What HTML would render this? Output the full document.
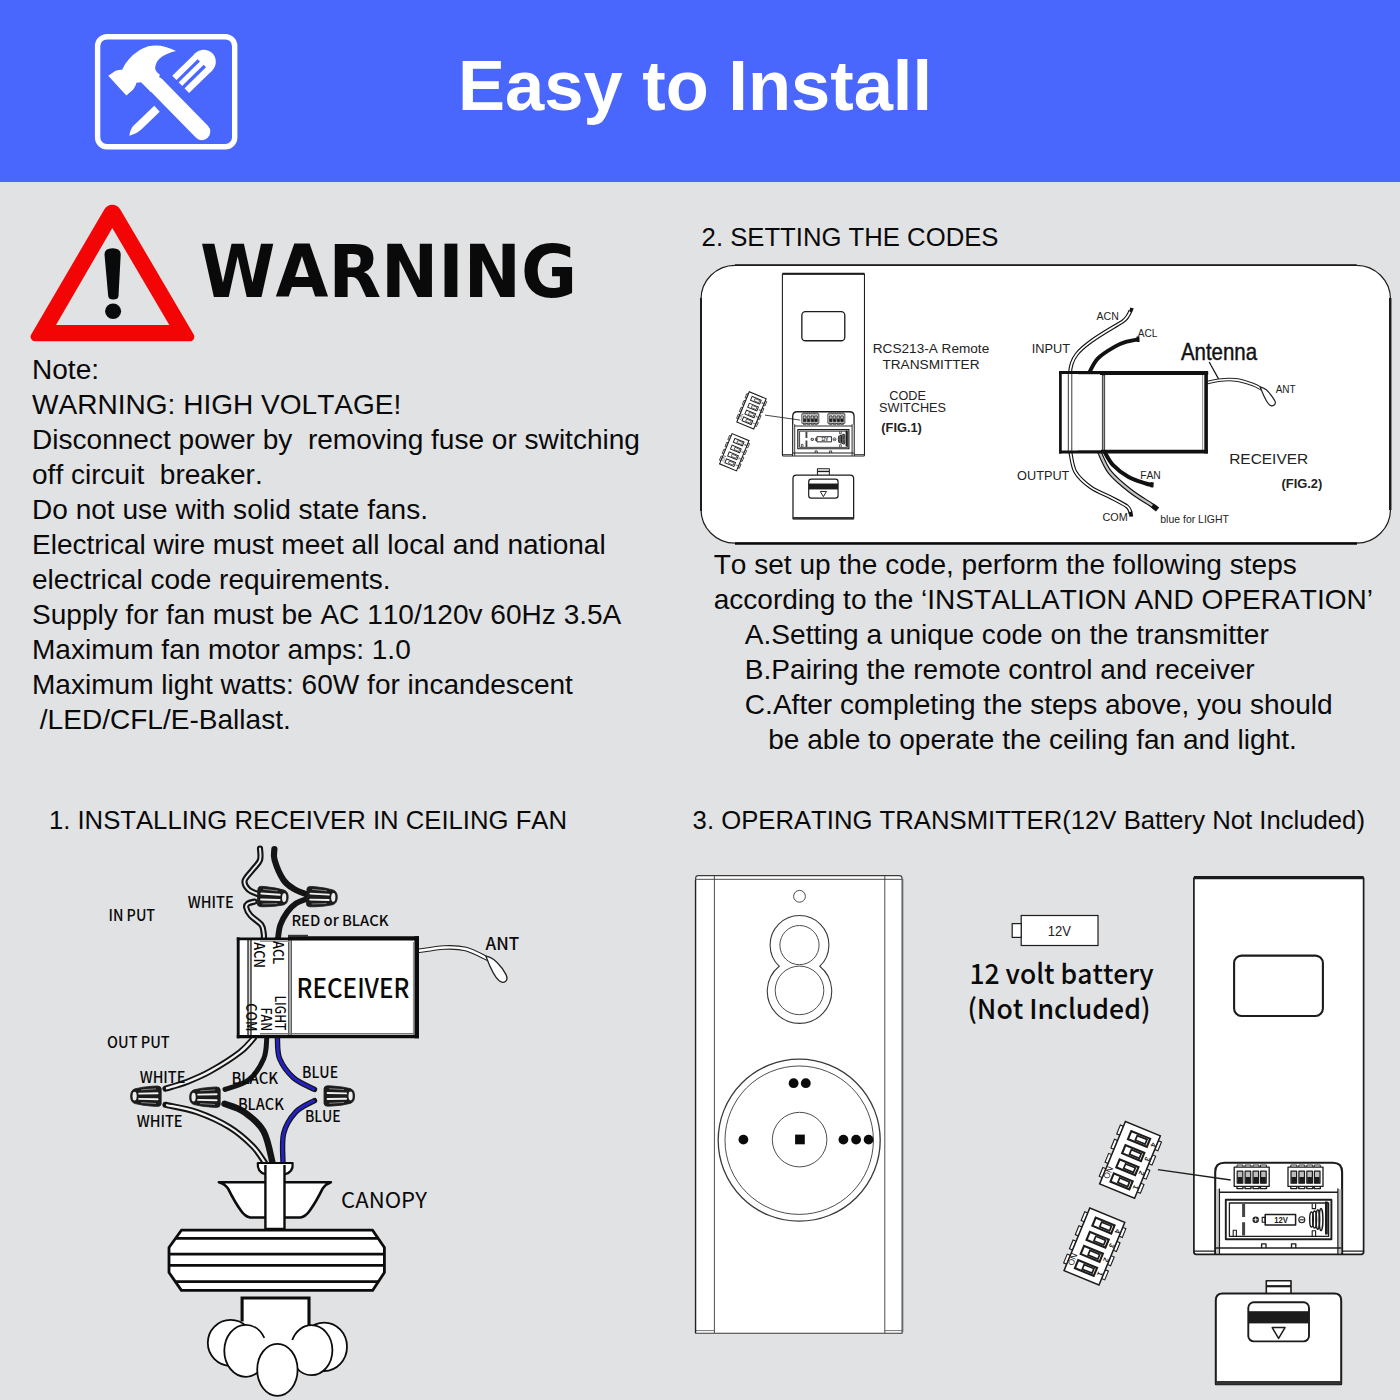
<!DOCTYPE html>
<html lang="en">
<head>
<meta charset="utf-8">
<title>Easy to Install</title>
<style>
html,body{margin:0;padding:0;}
body{font-kerning:none;width:1400px;height:1400px;position:relative;overflow:hidden;background:#e1e2e4;font-family:"Liberation Sans",sans-serif;color:#0a0a0a;}
.hdr{position:absolute;left:0;top:0;width:1400px;height:182px;background:#4966fd;}
.title{position:absolute;left:-5px;top:45.5px;width:1400px;text-align:center;font-weight:bold;font-size:70.5px;line-height:80px;color:#fff;white-space:pre;}
.warn{position:absolute;left:200.2px;top:217.7px;font-family:"DejaVu Sans","Liberation Sans",sans-serif;font-weight:bold;font-size:73px;line-height:108px;white-space:pre;transform:scaleX(0.937);transform-origin:0 0;}
.note{position:absolute;left:32px;top:351.7px;font-size:28.05px;line-height:35px;white-space:pre;}
.steps{position:absolute;left:713.7px;top:546.8px;font-size:28.05px;line-height:35px;white-space:pre;}
.h2{position:absolute;font-size:25.7px;line-height:30px;white-space:pre;}
svg{position:absolute;left:0;top:0;}
svg text{white-space:pre;}
.a{font-family:"Liberation Sans",sans-serif;fill:#222;}
.y{font-family:"Noto Sans CJK SC","DejaVu Sans","Liberation Sans",sans-serif;fill:#0a0a0a;font-weight:500;}
</style>
</head>
<body>
<div class="hdr"></div>
<div class="title" id="title">Easy to Install</div>
<div class="warn" id="warn">WARNING</div>
<div class="note" id="note">Note:
WARNING: HIGH VOLTAGE!
Disconnect power by  removing fuse or switching
off circuit  breaker.
Do not use with solid state fans.
Electrical wire must meet all local and national
electrical code requirements.
Supply for fan must be AC 110/120v 60Hz 3.5A
Maximum fan motor amps: 1.0
Maximum light watts: 60W for incandescent
 /LED/CFL/E-Ballast.</div>
<div class="h2" id="h2a" style="left:701.6px;top:222.3px">2. SETTING THE CODES</div>
<div class="steps" id="steps">To set up the code, perform the following steps
according to the ‘INSTALLATION AND OPERATION’
    A.Setting a unique code on the transmitter
    B.Pairing the remote control and receiver
    C.After completing the steps above, you should
       be able to operate the ceiling fan and light.</div>
<div class="h2" id="h2b" style="left:48.9px;top:805px">1. INSTALLING RECEIVER IN CEILING FAN</div>
<div class="h2" id="h2c" style="left:692.6px;top:805.2px">3. OPERATING TRANSMITTER(12V Battery Not Included)</div>
<svg id="art" width="1400" height="1400" viewBox="0 0 1400 1400">
<!-- ===== header icon: hammer + screwdriver ===== -->
<rect x="97.6" y="36.7" width="137.1" height="110" rx="9.3" ry="9.3" fill="none" stroke="#fff" stroke-width="5.4"/>
<g transform="translate(90,28) scale(0.10857)" fill="#fff" stroke="none">
  <!-- hammer handle -->
  <path d="M606 522 L1030 955" stroke="#fff" stroke-width="156" stroke-linecap="round" fill="none"/>
  <!-- hammer head -->
  <path d="M168 440 L232 396 Q262 382 296 384 Q318 330 360 285 Q430 205 535 168 Q660 140 792 212 Q700 232 642 280 Q598 322 600 378 Q610 410 645 432 L560 590 L470 500 L428 504 Q420 540 398 566 L335 622 Z"/>
  <!-- screwdriver handle -->
  <path d="M835 520 L1048 312" stroke="#fff" stroke-width="222" stroke-linecap="butt" fill="none"/>
  <circle cx="1048" cy="312" r="111"/>
  <!-- grooves -->
  <path d="M1002 298 L800 496" stroke="#4966fd" stroke-width="30" fill="none"/>
  <path d="M1058 350 L856 548" stroke="#4966fd" stroke-width="30" fill="none"/>
  <!-- screwdriver shaft + blade -->
  <path d="M592 716 L642 772 L470 938 Q430 975 362 992 Q372 930 400 900 Z"/>
</g>
<!-- ===== warning triangle ===== -->
<path d="M104.3 209.4 A9.3 9.3 0 0 1 120.3 209.4 L193.7 334.5 A4.5 4.5 0 0 1 189.9 341.3 L35.1 341.3 A4.5 4.5 0 0 1 31.2 334.5 Z" fill="#f30505"/>
<path d="M112.3 228 L169.3 325 L56 325 Z" fill="#e1e2e4"/>
<path d="M104.5 254.5 Q104.4 248.3 112.6 248.3 Q120.8 248.3 120.7 254.5 L118.5 296 Q118.2 299.6 113.3 299.6 Q108.5 299.6 108.2 296 Z" fill="#0a0a0a"/>
<ellipse cx="113.1" cy="311.2" rx="8" ry="7.7" fill="#0a0a0a"/>

<!-- ===== section 2: setting the codes ===== -->
<rect x="701" y="265.3" width="689.5" height="277.9" rx="34" ry="34" fill="#fff" stroke="#1c1c1c" stroke-width="1.2"/>
<path d="M701 298 V511" stroke="#1c1c1c" stroke-width="2" fill="none"/>
<path d="M735 265.1 H1356.5" stroke="#1c1c1c" stroke-width="1.8" fill="none"/>
<path d="M735 543.5 H1357" stroke="#0a0a0a" stroke-width="2.6" fill="none"/>
<path d="M1390.2 298 V510" stroke="#1c1c1c" stroke-width="2.4" fill="none"/>
<g transform="translate(205.03,-150.56) scale(0.4836)">
<g fill="none" stroke="#1c1c1c" stroke-width="2.21" stroke-linejoin="round">
  <!-- remote back body -->
  <path d="M1193.9 878 H1363.6 V1252 Q1363.6 1254.3 1361.3 1254.3 H1196.2 Q1193.9 1254.3 1193.9 1252 Z" fill="#fff"/>
  <path d="M1193.9 877.6 H1363.6" stroke-width="4.16"/>
  <path d="M1194 1251.2 H1215 M1342 1251.2 H1363.5" stroke-width="1.56"/>
  <!-- window -->
  <rect x="1234.1" y="955.6" width="88.8" height="60.4" rx="7.5" ry="7.5" stroke-width="2.73"/>
  <!-- battery compartment -->
  <path d="M1215.2 1254.3 V1172 Q1215.2 1162.7 1224.5 1162.7 H1332.8 Q1342.1 1162.7 1342.1 1172 V1254.3" stroke-width="2.73"/>
  <path d="M1217.3 1189 V1253 M1340 1189 V1253" stroke="#c6c6c6" stroke-width="3.38"/>
  <path d="M1219.4 1254 V1188.5 M1337.9 1254 V1188.5" stroke-width="1.69"/>
  <path d="M1219.4 1192.2 H1337.9" stroke-width="1.95"/>
  <path d="M1216 1248 H1341.5" stroke-width="2.08"/>
  <path d="M1261.6 1248 V1243.8 H1266 V1248 M1291.5 1248 V1243.8 H1295.8 V1248" stroke-width="1.69"/>
  <!-- dip blocks in compartment -->
  <g stroke-width="1.69">
    <rect x="1234.2" y="1167.2" width="35" height="19.2" fill="#fff"/>
    <rect x="1288" y="1167.2" width="35" height="19.2" fill="#fff"/>
    <path d="M1237 1167 V1165 H1243 V1167 M1245 1167 V1165 H1251 V1167 M1253 1167 V1165 H1259 V1167 M1260.5 1167 V1165 H1266.5 V1167" stroke-width="1.17"/>
    <path d="M1290.8 1167 V1165 H1296.8 V1167 M1298.8 1167 V1165 H1304.8 V1167 M1306.8 1167 V1165 H1312.8 V1167 M1314.3 1167 V1165 H1320.3 V1167" stroke-width="1.17"/>
    <path d="M1237 1186.6 V1188.6 H1243 V1186.6 M1245 1186.6 V1188.6 H1251 V1186.6 M1253 1186.6 V1188.6 H1259 V1186.6 M1260.5 1186.6 V1188.6 H1266.5 V1186.6" stroke-width="1.82"/>
    <path d="M1290.8 1186.6 V1188.6 H1296.8 V1186.6 M1298.8 1186.6 V1188.6 H1304.8 V1186.6 M1306.8 1186.6 V1188.6 H1312.8 V1186.6 M1314.3 1186.6 V1188.6 H1320.3 V1186.6" stroke-width="1.82"/>
    <g fill="#bdbdbd" stroke-width="1.56">
      <rect x="1237.2" y="1171.2" width="5.6" height="12"/><rect x="1245.1" y="1171.2" width="5.6" height="12"/><rect x="1253" y="1171.2" width="5.6" height="12"/><rect x="1260.6" y="1171.2" width="5.6" height="12"/>
      <rect x="1291" y="1171.2" width="5.6" height="12"/><rect x="1298.9" y="1171.2" width="5.6" height="12"/><rect x="1306.8" y="1171.2" width="5.6" height="12"/><rect x="1314.4" y="1171.2" width="5.6" height="12"/>
    </g>
    <g fill="#1c1c1c" stroke="none">
      <rect x="1237.6" y="1177" width="4.8" height="6.2"/><rect x="1245.5" y="1177" width="4.8" height="6.2"/><rect x="1253.4" y="1177" width="4.8" height="6.2"/><rect x="1261" y="1177" width="4.8" height="6.2"/>
      <rect x="1291.4" y="1177" width="4.8" height="6.2"/><rect x="1299.3" y="1177" width="4.8" height="6.2"/><rect x="1307.2" y="1177" width="4.8" height="6.2"/><rect x="1314.8" y="1177" width="4.8" height="6.2"/>
    </g>
  </g>
  <!-- battery holder -->
  <rect x="1225.8" y="1199.7" width="105.6" height="39.6" stroke-width="2.47" fill="#fff"/>
  <rect x="1229.4" y="1203" width="99.2" height="33.4" stroke-width="1.69"/>
  <path d="M1243.6 1204 V1217 M1243.6 1222.2 V1235.6" stroke-width="3.90" stroke="#444"/>
  <path d="M1233.2 1236 V1230.2 H1236.4 V1236" stroke-width="1.43"/>
  <path d="M1312.2 1203.4 V1208.6 H1315.6 V1203.4 M1312.2 1236 V1230.8 H1315.6 V1236" stroke-width="1.43"/>
  <circle cx="1255.7" cy="1219.8" r="3.2" fill="#1c1c1c" stroke="none"/>
  <path d="M1253.6 1219.8 H1257.8 M1255.7 1217.7 V1221.9" stroke="#fff" stroke-width="1.17"/>
  <circle cx="1301.8" cy="1219.8" r="3" stroke-width="1.43"/>
  <path d="M1299.8 1219.8 H1303.8" stroke-width="1.43"/>
  <rect x="1265.2" y="1214.4" width="30.4" height="10.6" stroke-width="1.95" fill="#fff"/>
  <rect x="1262.2" y="1217.4" width="3" height="4.8" stroke-width="1.43"/>
  <!-- spring -->
  <g stroke-width="1.95">
    <ellipse cx="1311.5" cy="1219.5" rx="1.8" ry="7.5"/>
    <ellipse cx="1314.6" cy="1219.5" rx="1.9" ry="8.6"/>
    <ellipse cx="1317.8" cy="1219.5" rx="1.9" ry="9.8"/>
    <ellipse cx="1321" cy="1219.5" rx="1.9" ry="11"/>
  </g>
  <path d="M1326.4 1201.5 V1234.5" stroke-width="3.64"/>
  <!-- leader line -->
  <path d="M1157.9 1169.7 L1230.7 1180" stroke-width="1.69"/>
  <!-- battery cover -->
  <path d="M1266.3 1293.5 V1280.8 H1291 V1293.5" fill="#fff" stroke-width="2.08"/>
  <path d="M1266.3 1286.2 H1291" stroke-width="2.86"/>
  <path d="M1215.8 1384.2 V1300.5 Q1215.8 1293.6 1222.7 1293.6 H1334.3 Q1341.2 1293.6 1341.2 1300.5 V1384.2 Z" fill="#fff" stroke-width="2.60"/>
  <path d="M1215.8 1382.7 H1341.2" stroke="#333" stroke-width="4.42"/>
  <rect x="1248.3" y="1302.2" width="60.7" height="39.2" rx="5.5" ry="5.5" stroke-width="2.47" fill="#fff"/>
  <rect x="1248.3" y="1311.2" width="60.7" height="12.2" fill="#1c1c1c" stroke="none"/>
  <path d="M1272.2 1327.6 H1285 L1278.6 1338.4 Z" stroke-width="1.95"/>
</g>
<text class="a" x="1274.2" y="1223" font-size="9.2" font-weight="bold" textLength="13.8" lengthAdjust="spacingAndGlyphs" style="fill:#1c1c1c">12V</text>
<g transform="translate(1130,1159.9) rotate(22.4)" fill="none" stroke="#1c1c1c" stroke-linejoin="miter">
  <g fill="#fff" stroke-width="1.5">
    <rect x="-22.2" y="-28.5" width="3.4" height="9.5"/><rect x="-22.2" y="-13.2" width="3.4" height="9.5"/><rect x="-22.2" y="2.1" width="3.4" height="9.5"/><rect x="-22.2" y="17.4" width="3.4" height="9.5"/>
    <rect x="18.9" y="-28.5" width="3.4" height="9.5"/><rect x="18.9" y="-13.2" width="3.4" height="9.5"/><rect x="18.9" y="2.1" width="3.4" height="9.5"/><rect x="18.9" y="17.4" width="3.4" height="9.5"/>
  </g>
  <rect x="-18.9" y="-33.8" width="37.8" height="67.6" fill="#fff" stroke-width="2.2"/>
  <g stroke-width="1.9">
    <rect x="-9.8" y="-27.2" width="20.4" height="8.8"/><rect x="-9.8" y="-11.9" width="20.4" height="8.8"/><rect x="-9.8" y="3.4" width="20.4" height="8.8"/><rect x="-9.8" y="18.7" width="20.4" height="8.8"/>
  </g>
  <g stroke-width="1.3" fill="#fff">
    <rect x="-2.6" y="-25.3" width="10.6" height="5"/><rect x="-2.6" y="-10" width="10.6" height="5"/><rect x="-2.6" y="5.3" width="10.6" height="5"/><rect x="-2.6" y="20.6" width="10.6" height="5"/>
  </g>
  <g class="a" font-size="7.4" font-weight="bold" stroke="none" style="fill:#1c1c1c">
    <text transform="translate(13.2,-24.8) rotate(90)">4</text>
    <text transform="translate(13.2,-9.5) rotate(90)">3</text>
    <text transform="translate(13.2,5.8) rotate(90)">2</text>
    <text transform="translate(13.2,21.1) rotate(90)">1</text>
    <text transform="translate(-12.4,26.4) rotate(-90)" font-size="8.4" font-weight="normal">ON</text>
  </g>
</g>

<g transform="translate(1094.4,1246.5) rotate(22.4)" fill="none" stroke="#1c1c1c" stroke-linejoin="miter">
  <g fill="#fff" stroke-width="1.5">
    <rect x="-22.2" y="-28.5" width="3.4" height="9.5"/><rect x="-22.2" y="-13.2" width="3.4" height="9.5"/><rect x="-22.2" y="2.1" width="3.4" height="9.5"/><rect x="-22.2" y="17.4" width="3.4" height="9.5"/>
    <rect x="18.9" y="-28.5" width="3.4" height="9.5"/><rect x="18.9" y="-13.2" width="3.4" height="9.5"/><rect x="18.9" y="2.1" width="3.4" height="9.5"/><rect x="18.9" y="17.4" width="3.4" height="9.5"/>
  </g>
  <rect x="-18.9" y="-33.8" width="37.8" height="67.6" fill="#fff" stroke-width="2.2"/>
  <g stroke-width="1.9">
    <rect x="-9.8" y="-27.2" width="20.4" height="8.8"/><rect x="-9.8" y="-11.9" width="20.4" height="8.8"/><rect x="-9.8" y="3.4" width="20.4" height="8.8"/><rect x="-9.8" y="18.7" width="20.4" height="8.8"/>
  </g>
  <g stroke-width="1.3" fill="#fff">
    <rect x="-2.6" y="-25.3" width="10.6" height="5"/><rect x="-2.6" y="-10" width="10.6" height="5"/><rect x="-2.6" y="5.3" width="10.6" height="5"/><rect x="-2.6" y="20.6" width="10.6" height="5"/>
  </g>
  <g class="a" font-size="7.4" font-weight="bold" stroke="none" style="fill:#1c1c1c">
    <text transform="translate(13.2,-24.8) rotate(90)">4</text>
    <text transform="translate(13.2,-9.5) rotate(90)">3</text>
    <text transform="translate(13.2,5.8) rotate(90)">2</text>
    <text transform="translate(13.2,21.1) rotate(90)">1</text>
    <text transform="translate(-12.4,26.4) rotate(-90)" font-size="8.4" font-weight="normal">ON</text>
  </g>
</g>


</g>
<g class="a" font-size="13.2">
  <text x="872.8" y="353.3" textLength="116.4" lengthAdjust="spacingAndGlyphs">RCS213-A Remote</text>
  <text x="882.4" y="368.8" textLength="97.2" lengthAdjust="spacingAndGlyphs">TRANSMITTER</text>
  <text x="889.3" y="400.1" textLength="36.6" lengthAdjust="spacingAndGlyphs">CODE</text>
  <text x="879" y="412" textLength="67" lengthAdjust="spacingAndGlyphs">SWITCHES</text>
  <text x="881.3" y="431.6" font-size="12.4" font-weight="bold" textLength="40.6" lengthAdjust="spacingAndGlyphs">(FIG.1)</text>
  <text x="1031.7" y="353.4" textLength="38.3" lengthAdjust="spacingAndGlyphs">INPUT</text>
  <text x="1017.1" y="480.1" textLength="52.3" lengthAdjust="spacingAndGlyphs">OUTPUT</text>
  <text x="1229.2" y="464" font-size="14.2" textLength="79" lengthAdjust="spacingAndGlyphs">RECEIVER</text>
  <text x="1281.5" y="487.8" font-size="12.4" font-weight="bold" textLength="40.8" lengthAdjust="spacingAndGlyphs">(FIG.2)</text>
  <text x="1096.5" y="320.3" font-size="10.6" textLength="22.3" lengthAdjust="spacingAndGlyphs">ACN</text>
  <text x="1137.7" y="337.1" font-size="10.6" textLength="19.7" lengthAdjust="spacingAndGlyphs">ACL</text>
  <text x="1275.7" y="393.4" font-size="10.6" textLength="20" lengthAdjust="spacingAndGlyphs">ANT</text>
  <text x="1140.2" y="478.5" font-size="10.6" textLength="20.6" lengthAdjust="spacingAndGlyphs">FAN</text>
  <text x="1102.5" y="520.9" font-size="10.6" textLength="25.2" lengthAdjust="spacingAndGlyphs">COM</text>
  <text x="1160.3" y="523.1" font-size="10.6" textLength="68.6" lengthAdjust="spacingAndGlyphs">blue for LIGHT</text>
  <text x="1180.9" y="360.3" font-size="24" textLength="76.2" lengthAdjust="spacingAndGlyphs" style="fill:#111;stroke:#111;stroke-width:0.45px">Antenna</text>
</g>
<g fill="none" stroke="#111" stroke-linecap="butt">
  <!-- antenna leader -->
  <path d="M1209.2 362 L1218.8 379.4" stroke-width="1.2"/>
  <!-- wires behind box -->
  <path d="M1070 374 C1070.5 357 1080 349.5 1091 341.4 C1102 333.4 1114 327 1122.5 321.6 C1127 318.6 1129 314.5 1130.6 310.4" stroke-width="4"/>
  <path d="M1070 374 C1070.5 357 1080 349.5 1091 341.4 C1102 333.4 1114 327 1122.5 321.6 C1127 318.6 1129 314.5 1130.6 310.4" stroke="#fff" stroke-width="1.7"/>
  <path d="M1129.3 311.5 L1130.2 307.6 L1133.8 308.6 L1131.8 312.4 Z" fill="#111" stroke="none"/>
  <path d="M1088.6 374.0 C1090.1 371.4 1093.3 363.2 1097.7 358.6 C1102.1 354.0 1110.0 349.4 1114.9 346.6 C1119.8 343.8 1123.1 342.8 1126.9 341.6 C1130.8 340.4 1136.2 339.8 1138.0 339.4" stroke-width="3.9"/>
  <path d="M1136.5 336.6 L1139.4 336.4 L1139.6 342 L1136.8 342 Z" fill="#111" stroke="none"/>
  <path d="M1070.3 452.0 C1071.2 455.3 1072.0 466.1 1075.4 472.0 C1078.8 477.9 1084.9 483.1 1090.9 487.4 C1096.9 491.7 1105.4 494.5 1111.4 497.7 C1117.4 500.9 1123.7 503.8 1126.9 506.3 C1130.1 508.9 1130.0 511.9 1130.6 513.0" stroke-width="4"/>
  <path d="M1070.3 452.0 C1071.2 455.3 1072.0 466.1 1075.4 472.0 C1078.8 477.9 1084.9 483.1 1090.9 487.4 C1096.9 491.7 1105.4 494.5 1111.4 497.7 C1117.4 500.9 1123.7 503.9 1126.9 506.3 C1130.1 508.7 1129.8 511.1 1130.4 512.0" stroke="#fff" stroke-width="1.7"/>
  <path d="M1128.4 512.6 L1132.4 511.6 L1133.2 516.6 L1129.6 516.8 Z" fill="#111" stroke="none"/>
  <path d="M1099.4 452.0 C1101.1 455.3 1104.6 465.5 1109.7 472.0 C1114.8 478.5 1123.4 485.5 1130.3 490.9 C1137.2 496.3 1146.7 501.8 1150.9 504.6 C1155.1 507.4 1154.8 507.3 1155.6 507.8" stroke-width="4.6"/>
  <path d="M1099.4 452.0 C1101.1 455.3 1104.6 465.5 1109.7 472.0 C1114.8 478.5 1123.4 485.5 1130.3 490.9 C1137.2 496.3 1147.1 502.1 1150.9 504.6 C1154.7 507.1 1152.7 505.8 1153.0 506.0" stroke="#c4c4c4" stroke-width="2.3"/>
  <path d="M1153.6 503.6 L1159.2 507.4 L1156 511.6 L1151 507.6 Z" fill="#111" stroke="none"/>
  <path d="M1104.6 452.0 C1106.0 454.2 1109.1 460.9 1113.1 465.1 C1117.1 469.3 1123.2 474.0 1128.6 477.1 C1134.0 480.2 1141.7 482.2 1145.7 483.5 C1149.7 484.8 1151.4 484.7 1152.6 484.9" stroke-width="4"/>
  <path d="M1150.6 482 L1153.8 482.4 L1153.4 487.6 L1150.2 487.2 Z" fill="#111" stroke="none"/>
  <!-- antenna wire -->
  <path d="M1206.0 382.8 C1208.1 382.4 1213.6 380.7 1218.6 380.2 C1223.5 379.7 1230.0 379.2 1235.7 379.9 C1241.4 380.6 1248.6 383.0 1252.9 384.5 C1257.2 386.0 1260.0 388.1 1261.4 388.8" stroke-width="3.6" stroke="#222"/>
  <path d="M1206.0 382.8 C1208.1 382.4 1213.6 380.7 1218.6 380.2 C1223.5 379.7 1230.0 379.2 1235.7 379.9 C1241.4 380.6 1248.6 383.0 1252.9 384.5 C1257.2 386.0 1260.0 388.1 1261.4 388.8" stroke="#fff" stroke-width="1.6"/>
  <path d="M1260.2 387.2 C1265 387.4 1270.5 393.5 1274.6 400.4 C1277 404.6 1272.6 407.2 1269.6 405 C1265.8 402 1263 394 1260.2 387.2 Z" fill="#fff" stroke="#222" stroke-width="1.2"/>
  <!-- receiver box -->
  <rect x="1060.3" y="372.6" width="146" height="79.2" fill="#fff" stroke="none"/>
  <path d="M1068.3 373 V452 M1071.8 373 V452" stroke="#222" stroke-width="0.9"/>
  <path d="M1103.5 374 V451" stroke="#333" stroke-width="3.2"/>
  <path d="M1103.5 375.5 V450" stroke="#a0a0a0" stroke-width="1.5"/>
  <path d="M1202.6 375 V450" stroke="#888" stroke-width="0.9"/>
  <path d="M1078 373.8 H1101 M1078 450.6 H1101" stroke="#999" stroke-width="1.2"/>
  <path d="M1060.4 371.1 V453.5" stroke-width="2.7"/>
  <path d="M1059.1 372.5 H1101" stroke-width="2.8"/>
  <path d="M1100 373 H1208.2" stroke-width="3.8"/>
  <path d="M1206.1 371.1 V453.5" stroke-width="3.6"/>
  <path d="M1059.1 452 H1102 " stroke-width="2.8"/>
  <path d="M1101 451.6 H1207.9" stroke-width="3.8"/>
</g>

<!-- ===== section 1: installing receiver ===== -->
<g fill="none" stroke="#141414" stroke-linecap="round" stroke-linejoin="round">
  <!-- input wires -->
  <path d="M260.0 848.5 C260.0 850.4 261.2 856.4 260.0 860.0 C258.8 863.6 255.1 866.5 252.5 870.0 C249.9 873.5 245.3 877.5 244.6 880.7 C243.9 884.0 246.2 887.2 248.5 889.5 C250.8 891.8 256.9 893.5 258.6 894.3" stroke-width="6.2"/>
  <path d="M260.0 848.5 C260.0 850.4 261.2 856.4 260.0 860.0 C258.8 863.6 255.1 866.5 252.5 870.0 C249.9 873.5 245.3 877.5 244.6 880.7 C243.9 884.0 246.2 887.2 248.5 889.5 C250.8 891.8 256.9 893.5 258.6 894.3" stroke="#e9e9e9" stroke-width="2"/>
  <path d="M254.5 901.6 C253.4 901.9 249.4 902.5 248.0 903.5 C246.6 904.5 245.8 905.5 246.2 907.5 C246.6 909.5 247.9 912.6 250.5 915.5 C253.1 918.4 259.3 921.9 261.5 925.0 C263.7 928.1 263.4 932.1 263.8 934.3 C264.2 936.5 263.8 937.4 263.8 938.0" stroke-width="6.2"/>
  <path d="M254.5 901.6 C253.4 901.9 249.4 902.5 248.0 903.5 C246.6 904.5 245.8 905.5 246.2 907.5 C246.6 909.5 247.9 912.6 250.5 915.5 C253.1 918.4 259.3 921.9 261.5 925.0 C263.7 928.1 263.4 932.1 263.8 934.3 C264.2 936.5 263.8 937.4 263.8 938.0" stroke="#e9e9e9" stroke-width="2"/>
  <path d="M274.4 849.0 C274.4 850.8 273.1 854.8 274.6 860.0 C276.1 865.2 280.3 875.2 283.5 880.0 C286.7 884.8 290.2 886.6 294.0 889.0 C297.8 891.4 304.0 893.3 306.0 894.2" stroke-width="6.2"/>
  <path d="M306.0 899.2 C304.3 899.9 299.1 901.3 296.0 903.4 C292.9 905.5 289.9 908.4 287.3 912.0 C284.7 915.6 281.9 920.7 280.3 925.0 C278.8 929.3 278.4 935.8 278.0 938.0" stroke-width="5.8"/>
  <!-- output wires -->
  <path d="M253.9 1038.0 C251.6 1040.3 247.3 1046.5 240.0 1052.1 C232.7 1057.7 218.9 1066.4 210.0 1071.4 C201.1 1076.4 193.8 1079.2 186.4 1082.1 C179.0 1085.0 169.0 1087.5 165.5 1088.6" stroke-width="6.2"/>
  <path d="M253.9 1038.0 C251.6 1040.3 247.3 1046.5 240.0 1052.1 C232.7 1057.7 218.9 1066.4 210.0 1071.4 C201.1 1076.4 193.6 1079.3 186.4 1082.1 C179.2 1084.9 170.2 1087.2 167.0 1088.2" stroke="#f2f2f2" stroke-width="2.4"/>
  <path d="M165.5 1104.8 C170.8 1106.0 186.5 1108.4 197.1 1112.1 C207.7 1115.8 220.0 1121.4 229.3 1127.1 C238.6 1132.8 246.8 1140.2 252.9 1146.4 C259.0 1152.6 263.6 1161.1 265.7 1164.0" stroke-width="6.2"/>
  <path d="M167.0 1105.2 C172.0 1106.3 186.7 1108.4 197.1 1112.1 C207.5 1115.8 220.0 1121.4 229.3 1127.1 C238.6 1132.8 246.8 1140.2 252.9 1146.4 C259.0 1152.6 263.6 1161.1 265.7 1164.0" stroke="#f2f2f2" stroke-width="2.2"/>
  <path d="M266.8 1038.0 C266.3 1041.4 266.8 1051.6 263.8 1058.6 C260.8 1065.6 255.1 1074.9 248.6 1080.0 C242.1 1085.1 228.9 1087.8 225.0 1089.4" stroke-width="5"/>
  <path d="M224.5 1103.8 C227.8 1105.2 237.8 1107.5 244.3 1112.1 C250.8 1116.7 258.9 1122.9 263.6 1131.4 C268.3 1139.9 271.1 1157.7 272.6 1163.0" stroke-width="6.4"/>
  <path d="M277.4 1038.0 C277.8 1041.4 276.9 1051.9 279.6 1058.6 C282.3 1065.2 287.8 1072.8 293.6 1077.9 C299.4 1083.0 311.0 1087.5 314.5 1089.4" stroke-width="5.4"/>
  <path d="M277.4 1038.0 C277.8 1041.4 276.9 1051.9 279.6 1058.6 C282.3 1065.2 288.0 1072.8 293.6 1077.9 C299.2 1083.0 310.2 1087.2 313.5 1089.0" stroke="#2222c8" stroke-width="3"/>
  <path d="M314.5 1100.6 C311.4 1102.5 300.8 1106.6 295.7 1112.1 C290.6 1117.6 285.7 1124.9 283.6 1133.6 C281.5 1142.2 283.1 1158.9 283.0 1164.0" stroke-width="5.4"/>
  <path d="M313.5 1101.0 C310.5 1102.8 300.7 1106.7 295.7 1112.1 C290.7 1117.5 285.7 1124.9 283.6 1133.6 C281.5 1142.2 283.1 1158.9 283.0 1164.0" stroke="#2222c8" stroke-width="3"/>
  <!-- antenna wire -->
  <path d="M417.0 951.2 C421.6 950.6 436.2 947.9 444.3 947.5 C452.4 947.1 458.6 947.2 465.7 949.0 C472.8 950.8 483.1 956.6 487.1 958.4 C491.2 960.2 489.5 959.7 490.0 960.0" stroke-width="4.6" stroke="#222" stroke-linecap="butt"/>
  <path d="M417.0 951.2 C421.6 950.6 436.2 947.9 444.3 947.5 C452.4 947.1 458.6 947.2 465.7 949.0 C472.8 950.8 483.2 956.6 487.1 958.4 C491.0 960.2 488.7 959.4 489.0 959.6" stroke="#fff" stroke-width="2.4" stroke-linecap="butt"/>
  <path d="M486 956.4 C493.5 957 502 966.5 506 974.6 C509 981 503.8 984.4 499.2 980.8 C493.6 976 489.6 966 486 956.4 Z" fill="#fff" stroke="#222" stroke-width="1.3"/>
</g>
<g transform="translate(258.2,896.4) rotate(2.5)">
  <path d="M-0.6 -7.5 Q-0.4 -10.2 3 -10.2 L8 -10 Q18 -9.4 25.6 -7.4 Q30 -6 30 0 Q30 6 25.6 7.4 Q18 9.4 8 10 L3 10.2 Q-0.4 10.2 -0.6 7.5 Z" fill="#1c1c1c" stroke="#1c1c1c" stroke-width="0.8" stroke-linejoin="round"/>
  <path d="M3 -3 L21.5 -2.6 M3 3 L21.5 2.7" stroke="#f0f0f0" stroke-width="1.9" fill="none" stroke-linecap="round"/>
  <path d="M5 -7.3 L19 -6.4 M5 7.3 L19 6.4" stroke="#9a9a9a" stroke-width="0.8" fill="none" stroke-linecap="round"/>
  <ellipse cx="26" cy="0" rx="2.1" ry="4.4" fill="#ededed"/>
</g>
<g transform="translate(307.3,896.5) rotate(2)">
  <path d="M-0.6 -7.5 Q-0.4 -10.2 3 -10.2 L8 -10 Q18 -9.4 25.6 -7.4 Q30 -6 30 0 Q30 6 25.6 7.4 Q18 9.4 8 10 L3 10.2 Q-0.4 10.2 -0.6 7.5 Z" fill="#1c1c1c" stroke="#1c1c1c" stroke-width="0.8" stroke-linejoin="round"/>
  <path d="M3 -3 L21.5 -2.6 M3 3 L21.5 2.7" stroke="#f0f0f0" stroke-width="1.9" fill="none" stroke-linecap="round"/>
  <path d="M5 -7.3 L19 -6.4 M5 7.3 L19 6.4" stroke="#9a9a9a" stroke-width="0.8" fill="none" stroke-linecap="round"/>
  <ellipse cx="26" cy="0" rx="2.1" ry="4.4" fill="#ededed"/>
</g>
<g transform="translate(160.6,1096.2) scale(-1,1)">
  <path d="M-0.6 -7.5 Q-0.4 -10.2 3 -10.2 L8 -10 Q18 -9.4 25.6 -7.4 Q30 -6 30 0 Q30 6 25.6 7.4 Q18 9.4 8 10 L3 10.2 Q-0.4 10.2 -0.6 7.5 Z" fill="#1c1c1c" stroke="#1c1c1c" stroke-width="0.8" stroke-linejoin="round"/>
  <path d="M3 -3 L21.5 -2.6 M3 3 L21.5 2.7" stroke="#f0f0f0" stroke-width="1.9" fill="none" stroke-linecap="round"/>
  <path d="M5 -7.3 L19 -6.4 M5 7.3 L19 6.4" stroke="#9a9a9a" stroke-width="0.8" fill="none" stroke-linecap="round"/>
  <ellipse cx="26" cy="0" rx="2.1" ry="4.4" fill="#ededed"/>
</g>
<g transform="translate(219.6,1097.2) scale(-1,1)">
  <path d="M-0.6 -7.5 Q-0.4 -10.2 3 -10.2 L8 -10 Q18 -9.4 25.6 -7.4 Q30 -6 30 0 Q30 6 25.6 7.4 Q18 9.4 8 10 L3 10.2 Q-0.4 10.2 -0.6 7.5 Z" fill="#1c1c1c" stroke="#1c1c1c" stroke-width="0.8" stroke-linejoin="round"/>
  <path d="M3 -3 L21.5 -2.6 M3 3 L21.5 2.7" stroke="#f0f0f0" stroke-width="1.9" fill="none" stroke-linecap="round"/>
  <path d="M5 -7.3 L19 -6.4 M5 7.3 L19 6.4" stroke="#9a9a9a" stroke-width="0.8" fill="none" stroke-linecap="round"/>
  <ellipse cx="26" cy="0" rx="2.1" ry="4.4" fill="#ededed"/>
</g>
<g transform="translate(324.6,1096)">
  <path d="M-0.6 -7.5 Q-0.4 -10.2 3 -10.2 L8 -10 Q18 -9.4 25.6 -7.4 Q30 -6 30 0 Q30 6 25.6 7.4 Q18 9.4 8 10 L3 10.2 Q-0.4 10.2 -0.6 7.5 Z" fill="#1c1c1c" stroke="#1c1c1c" stroke-width="0.8" stroke-linejoin="round"/>
  <path d="M3 -3 L21.5 -2.6 M3 3 L21.5 2.7" stroke="#f0f0f0" stroke-width="1.9" fill="none" stroke-linecap="round"/>
  <path d="M5 -7.3 L19 -6.4 M5 7.3 L19 6.4" stroke="#9a9a9a" stroke-width="0.8" fill="none" stroke-linecap="round"/>
  <ellipse cx="26" cy="0" rx="2.1" ry="4.4" fill="#ededed"/>
</g>

<g fill="none" stroke="#0c0c0c" stroke-linecap="butt">
  <!-- receiver box -->
  <rect x="237.6" y="939" width="180" height="98" fill="#fff" stroke="none"/>
  <path d="M288 935.6 H308" stroke-width="1.6" stroke="#333"/>
  <path d="M249.5 940 V1036" stroke="#4a4a4a" stroke-width="4.6"/>
  <path d="M249.5 940 V1036" stroke="#dcdcdc" stroke-width="1.3"/>
  <path d="M290 940 V1036" stroke="#333" stroke-width="3.6"/>
  <path d="M290 940 V1036" stroke="#dadada" stroke-width="1.4"/>
  <path d="M413.4 942 V1035" stroke="#888" stroke-width="1"/>
  <path d="M260 1033.8 H414" stroke="#777" stroke-width="1.5"/>
  <path d="M260 941.4 H289" stroke="#999" stroke-width="1.2"/>
  <path d="M238.2 937.4 V1038.3" stroke-width="2.9"/>
  <path d="M236.8 938.8 H289" stroke-width="2.7"/>
  <path d="M288 938.3 H419" stroke-width="4.3"/>
  <path d="M416.7 936.2 V1038.3" stroke-width="4.6"/>
  <path d="M236.8 1036.7 H419" stroke-width="3.3"/>
</g>
<g class="y">
  <text x="296.6" y="998.2" font-size="26.3" textLength="112.8" lengthAdjust="spacingAndGlyphs">RECEIVER</text>
  <text x="108.5" y="920.6" font-size="16" textLength="46.6" lengthAdjust="spacingAndGlyphs">IN PUT</text>
  <text x="187.7" y="908.2" font-size="15.6" textLength="46" lengthAdjust="spacingAndGlyphs">WHITE</text>
  <text x="291.4" y="925.7" font-size="14.8" textLength="97.2" lengthAdjust="spacingAndGlyphs">RED or BLACK</text>
  <text x="485.6" y="949.6" font-size="16.9" textLength="33.7" lengthAdjust="spacingAndGlyphs">ANT</text>
  <text x="107.1" y="1048.3" font-size="15.4" textLength="62.6" lengthAdjust="spacingAndGlyphs">OUT PUT</text>
  <text x="139.7" y="1083.2" font-size="15.8" textLength="45.7" lengthAdjust="spacingAndGlyphs">WHITE</text>
  <text x="136.7" y="1127.1" font-size="15.8" textLength="45.9" lengthAdjust="spacingAndGlyphs">WHITE</text>
  <text x="231.4" y="1084.3" font-size="15.8" textLength="46.7" lengthAdjust="spacingAndGlyphs">BLACK</text>
  <text x="237.9" y="1110" font-size="15.8" textLength="46" lengthAdjust="spacingAndGlyphs">BLACK</text>
  <text x="302.1" y="1077.9" font-size="15.8" textLength="36" lengthAdjust="spacingAndGlyphs">BLUE</text>
  <text x="304.9" y="1122.2" font-size="15.8" textLength="35.8" lengthAdjust="spacingAndGlyphs">BLUE</text>
  <text x="341.1" y="1208.3" font-size="21.8" font-weight="400" textLength="85.8" lengthAdjust="spacingAndGlyphs">CANOPY</text>
  <text transform="translate(254,942.3) rotate(90)" font-size="14.4" textLength="25.6" lengthAdjust="spacingAndGlyphs">ACN</text>
  <text transform="translate(273.3,941) rotate(90)" font-size="14.4" textLength="23.2" lengthAdjust="spacingAndGlyphs">ACL</text>
  <text transform="translate(275.1,995.4) rotate(90)" font-size="14.2" textLength="35" lengthAdjust="spacingAndGlyphs">LIGHT</text>
  <text transform="translate(261.1,1007.6) rotate(90)" font-size="14.2" textLength="23.6" lengthAdjust="spacingAndGlyphs">FAN</text>
  <text transform="translate(245.5,1003.3) rotate(90)" font-size="14.2" textLength="28" lengthAdjust="spacingAndGlyphs">COM</text>
</g>
<g fill="#fff" stroke="#0c0c0c" stroke-width="2.6" stroke-linejoin="round">
  <!-- canopy bowl -->
  <path d="M218.9 1182.2 H330.9 Q325.5 1184 322.6 1188.6 Q316 1202 309.5 1211 Q305.5 1216.6 300.5 1217.5 H250.2 Q245.2 1216.6 241.2 1211 Q234.7 1202 228.1 1188.6 Q225.2 1184 218.9 1182.2 Z"/>
  <!-- stem ring + stem -->
  <path d="M257.8 1163 H292.6 Q293.5 1172 285 1174.2 H265.4 Q257 1172 257.8 1163 Z" stroke-width="2.2"/>
  <path d="M265.4 1165 V1229 H284.5 V1165" stroke-width="2.4"/>
  <!-- motor housing -->
  <path d="M181.4 1230.2 H372.6 L384.4 1247.5 V1272.5 L372.6 1290.4 H181.4 L169 1272.5 V1247.5 Z" stroke-width="2.8"/>
  <path d="M175.5 1238.4 H378.5 M169.5 1254.2 H384 M169.5 1265.4 H384 M175.5 1281.6 H378.5" fill="none" stroke-width="2.8"/>
  <!-- light kit -->
  <rect x="242" y="1298" width="67" height="54" stroke="none"/>
  <g stroke-width="1.8">
    <ellipse cx="230.6" cy="1342.8" rx="22.8" ry="23"/>
    <ellipse cx="324.2" cy="1346.8" rx="22.8" ry="24.2"/>
    <ellipse cx="245.7" cy="1350.8" rx="21.4" ry="26" pathLength="360" stroke-dasharray="276 84" stroke-dashoffset="-52"/>
    <ellipse cx="311.4" cy="1350.2" rx="21" ry="25" pathLength="360" stroke-dasharray="286 74" stroke-dashoffset="-206"/>
    <ellipse cx="277.4" cy="1369.8" rx="20.2" ry="26"/>
  </g>
  <path d="M242.1 1321.5 V1298 H309 V1325.5" fill="none" stroke-width="3.1" stroke-linejoin="miter"/>
</g>

<!-- ===== section 3: operating transmitter ===== -->
<g fill="none" stroke="#3a3a3a" stroke-width="0.9">
  <!-- remote front -->
  <path d="M695.6 1333.2 V878.5 Q695.6 875.6 698.5 875.6 H899.2 Q902.1 875.6 902.1 878.5 V1333.2 Z" fill="#fff" stroke-width="1.1"/>
  <path d="M695.5 880 V1333" stroke="#222" stroke-width="1.3"/>
  <path d="M696 879.3 H902" stroke-width="0.9"/>
  <path d="M714.4 876 V1333 M884.8 876 V1333" stroke-width="0.9"/>
  <path d="M696 1330.6 H714.4 M884.8 1330.6 H902" stroke-width="0.7"/>
  <path d="M903 879 V1332" stroke="#555" stroke-width="0.6"/>
  <circle cx="799.5" cy="896.3" r="5.9"/>
  <!-- figure-8 button -->
  <path d="M779.2 966.2 A29.4 29.4 0 1 1 819.8 966.2 A32.2 32.2 0 1 1 779.2 966.2 Z" stroke-width="1.1"/>
  <circle cx="799.5" cy="945.1" r="19.6"/>
  <circle cx="799.5" cy="990.4" r="24.3"/>
  <!-- dial -->
  <circle cx="799.2" cy="1140.2" r="81" stroke-width="1.3"/>
  <circle cx="799.2" cy="1140.2" r="74.2"/>
  <circle cx="799.6" cy="1139.6" r="27.3"/>
  <g fill="#0a0a0a" stroke="none">
    <rect x="795.1" y="1134.6" width="9.7" height="9.7"/>
    <circle cx="793.6" cy="1083.2" r="4.9"/><circle cx="805.8" cy="1083.2" r="4.9"/>
    <circle cx="743.4" cy="1139.6" r="4.9"/>
    <circle cx="843.4" cy="1139.6" r="4.9"/><circle cx="856.1" cy="1139.6" r="4.9"/><circle cx="868.6" cy="1139.6" r="4.9"/>
  </g>
  <!-- battery icon -->
  <rect x="1021.2" y="915.5" width="76.8" height="30" fill="#fff" stroke="#1c1c1c" stroke-width="1.2"/>
  <rect x="1012.2" y="923.6" width="9" height="13.8" fill="#fff" stroke="#1c1c1c" stroke-width="1.2"/>
</g>
<text class="a" x="1047.7" y="935.5" font-size="14.2" textLength="23.2" lengthAdjust="spacingAndGlyphs">12V</text>
<g class="y" font-weight="500" font-size="27.4">
  <text x="969.4" y="984.3" textLength="184.2" lengthAdjust="spacingAndGlyphs">12 volt battery</text>
  <text x="967.4" y="1019.1" textLength="183" lengthAdjust="spacingAndGlyphs">(Not Included)</text>
</g>
<g fill="none" stroke="#1c1c1c" stroke-width="1.7" stroke-linejoin="round">
  <!-- remote back body -->
  <path d="M1193.9 878 H1363.6 V1252 Q1363.6 1254.3 1361.3 1254.3 H1196.2 Q1193.9 1254.3 1193.9 1252 Z" fill="#fff"/>
  <path d="M1193.9 877.6 H1363.6" stroke-width="3.2"/>
  <path d="M1194 1251.2 H1215 M1342 1251.2 H1363.5" stroke-width="1.2"/>
  <!-- window -->
  <rect x="1234.1" y="955.6" width="88.8" height="60.4" rx="7.5" ry="7.5" stroke-width="2.1"/>
  <!-- battery compartment -->
  <path d="M1215.2 1254.3 V1172 Q1215.2 1162.7 1224.5 1162.7 H1332.8 Q1342.1 1162.7 1342.1 1172 V1254.3" stroke-width="2.1"/>
  <path d="M1217.3 1189 V1253 M1340 1189 V1253" stroke="#c6c6c6" stroke-width="2.6"/>
  <path d="M1219.4 1254 V1188.5 M1337.9 1254 V1188.5" stroke-width="1.3"/>
  <path d="M1219.4 1192.2 H1337.9" stroke-width="1.5"/>
  <path d="M1216 1248 H1341.5" stroke-width="1.6"/>
  <path d="M1261.6 1248 V1243.8 H1266 V1248 M1291.5 1248 V1243.8 H1295.8 V1248" stroke-width="1.3"/>
  <!-- dip blocks in compartment -->
  <g stroke-width="1.3">
    <rect x="1234.2" y="1167.2" width="35" height="19.2" fill="#fff"/>
    <rect x="1288" y="1167.2" width="35" height="19.2" fill="#fff"/>
    <path d="M1237 1167 V1165 H1243 V1167 M1245 1167 V1165 H1251 V1167 M1253 1167 V1165 H1259 V1167 M1260.5 1167 V1165 H1266.5 V1167" stroke-width="0.9"/>
    <path d="M1290.8 1167 V1165 H1296.8 V1167 M1298.8 1167 V1165 H1304.8 V1167 M1306.8 1167 V1165 H1312.8 V1167 M1314.3 1167 V1165 H1320.3 V1167" stroke-width="0.9"/>
    <path d="M1237 1186.6 V1188.6 H1243 V1186.6 M1245 1186.6 V1188.6 H1251 V1186.6 M1253 1186.6 V1188.6 H1259 V1186.6 M1260.5 1186.6 V1188.6 H1266.5 V1186.6" stroke-width="1.4"/>
    <path d="M1290.8 1186.6 V1188.6 H1296.8 V1186.6 M1298.8 1186.6 V1188.6 H1304.8 V1186.6 M1306.8 1186.6 V1188.6 H1312.8 V1186.6 M1314.3 1186.6 V1188.6 H1320.3 V1186.6" stroke-width="1.4"/>
    <g fill="#bdbdbd" stroke-width="1.2">
      <rect x="1237.2" y="1171.2" width="5.6" height="12"/><rect x="1245.1" y="1171.2" width="5.6" height="12"/><rect x="1253" y="1171.2" width="5.6" height="12"/><rect x="1260.6" y="1171.2" width="5.6" height="12"/>
      <rect x="1291" y="1171.2" width="5.6" height="12"/><rect x="1298.9" y="1171.2" width="5.6" height="12"/><rect x="1306.8" y="1171.2" width="5.6" height="12"/><rect x="1314.4" y="1171.2" width="5.6" height="12"/>
    </g>
    <g fill="#1c1c1c" stroke="none">
      <rect x="1237.6" y="1177" width="4.8" height="6.2"/><rect x="1245.5" y="1177" width="4.8" height="6.2"/><rect x="1253.4" y="1177" width="4.8" height="6.2"/><rect x="1261" y="1177" width="4.8" height="6.2"/>
      <rect x="1291.4" y="1177" width="4.8" height="6.2"/><rect x="1299.3" y="1177" width="4.8" height="6.2"/><rect x="1307.2" y="1177" width="4.8" height="6.2"/><rect x="1314.8" y="1177" width="4.8" height="6.2"/>
    </g>
  </g>
  <!-- battery holder -->
  <rect x="1225.8" y="1199.7" width="105.6" height="39.6" stroke-width="1.9" fill="#fff"/>
  <rect x="1229.4" y="1203" width="99.2" height="33.4" stroke-width="1.3"/>
  <path d="M1243.6 1204 V1217 M1243.6 1222.2 V1235.6" stroke-width="3" stroke="#444"/>
  <path d="M1233.2 1236 V1230.2 H1236.4 V1236" stroke-width="1.1"/>
  <path d="M1312.2 1203.4 V1208.6 H1315.6 V1203.4 M1312.2 1236 V1230.8 H1315.6 V1236" stroke-width="1.1"/>
  <circle cx="1255.7" cy="1219.8" r="3.2" fill="#1c1c1c" stroke="none"/>
  <path d="M1253.6 1219.8 H1257.8 M1255.7 1217.7 V1221.9" stroke="#fff" stroke-width="0.9"/>
  <circle cx="1301.8" cy="1219.8" r="3" stroke-width="1.1"/>
  <path d="M1299.8 1219.8 H1303.8" stroke-width="1.1"/>
  <rect x="1265.2" y="1214.4" width="30.4" height="10.6" stroke-width="1.5" fill="#fff"/>
  <rect x="1262.2" y="1217.4" width="3" height="4.8" stroke-width="1.1"/>
  <!-- spring -->
  <g stroke-width="1.5">
    <ellipse cx="1311.5" cy="1219.5" rx="1.8" ry="7.5"/>
    <ellipse cx="1314.6" cy="1219.5" rx="1.9" ry="8.6"/>
    <ellipse cx="1317.8" cy="1219.5" rx="1.9" ry="9.8"/>
    <ellipse cx="1321" cy="1219.5" rx="1.9" ry="11"/>
  </g>
  <path d="M1326.4 1201.5 V1234.5" stroke-width="2.8"/>
  <!-- leader line -->
  <path d="M1157.9 1169.7 L1230.7 1180" stroke-width="1.3"/>
  <!-- battery cover -->
  <path d="M1266.3 1293.5 V1280.8 H1291 V1293.5" fill="#fff" stroke-width="1.6"/>
  <path d="M1266.3 1286.2 H1291" stroke-width="2.2"/>
  <path d="M1215.8 1384.2 V1300.5 Q1215.8 1293.6 1222.7 1293.6 H1334.3 Q1341.2 1293.6 1341.2 1300.5 V1384.2 Z" fill="#fff" stroke-width="2"/>
  <path d="M1215.8 1382.7 H1341.2" stroke="#333" stroke-width="3.4"/>
  <rect x="1248.3" y="1302.2" width="60.7" height="39.2" rx="5.5" ry="5.5" stroke-width="1.9" fill="#fff"/>
  <rect x="1248.3" y="1311.2" width="60.7" height="12.2" fill="#1c1c1c" stroke="none"/>
  <path d="M1272.2 1327.6 H1285 L1278.6 1338.4 Z" stroke-width="1.5"/>
</g>
<text class="a" x="1274.2" y="1223" font-size="9.2" font-weight="bold" textLength="13.8" lengthAdjust="spacingAndGlyphs" style="fill:#1c1c1c">12V</text>
<g transform="translate(1130,1159.9) rotate(22.4)" fill="none" stroke="#1c1c1c" stroke-linejoin="miter">
  <g fill="#fff" stroke-width="1.1">
    <rect x="-22.2" y="-28.5" width="3.4" height="9.5"/><rect x="-22.2" y="-13.2" width="3.4" height="9.5"/><rect x="-22.2" y="2.1" width="3.4" height="9.5"/><rect x="-22.2" y="17.4" width="3.4" height="9.5"/>
    <rect x="18.9" y="-28.5" width="3.4" height="9.5"/><rect x="18.9" y="-13.2" width="3.4" height="9.5"/><rect x="18.9" y="2.1" width="3.4" height="9.5"/><rect x="18.9" y="17.4" width="3.4" height="9.5"/>
  </g>
  <rect x="-18.9" y="-33.8" width="37.8" height="67.6" fill="#fff" stroke-width="1.5"/>
  <g stroke-width="2.1">
    <rect x="-9.8" y="-27.2" width="20.4" height="8.8"/><rect x="-9.8" y="-11.9" width="20.4" height="8.8"/><rect x="-9.8" y="3.4" width="20.4" height="8.8"/><rect x="-9.8" y="18.7" width="20.4" height="8.8"/>
  </g>
  <g stroke-width="1.7" fill="#fff">
    <rect x="-2.6" y="-25.3" width="10.6" height="5"/><rect x="-2.6" y="-10" width="10.6" height="5"/><rect x="-2.6" y="5.3" width="10.6" height="5"/><rect x="-2.6" y="20.6" width="10.6" height="5"/>
  </g>
  <g class="a" font-size="7.4" font-weight="bold" stroke="none" style="fill:#1c1c1c">
    <text transform="translate(13.2,-24.8) rotate(90)">4</text>
    <text transform="translate(13.2,-9.5) rotate(90)">3</text>
    <text transform="translate(13.2,5.8) rotate(90)">2</text>
    <text transform="translate(13.2,21.1) rotate(90)">1</text>
    <text transform="translate(-12.4,26.4) rotate(-90)" font-size="8.4" font-weight="normal">ON</text>
  </g>
</g>

<g transform="translate(1094.4,1246.5) rotate(22.4)" fill="none" stroke="#1c1c1c" stroke-linejoin="miter">
  <g fill="#fff" stroke-width="1.1">
    <rect x="-22.2" y="-28.5" width="3.4" height="9.5"/><rect x="-22.2" y="-13.2" width="3.4" height="9.5"/><rect x="-22.2" y="2.1" width="3.4" height="9.5"/><rect x="-22.2" y="17.4" width="3.4" height="9.5"/>
    <rect x="18.9" y="-28.5" width="3.4" height="9.5"/><rect x="18.9" y="-13.2" width="3.4" height="9.5"/><rect x="18.9" y="2.1" width="3.4" height="9.5"/><rect x="18.9" y="17.4" width="3.4" height="9.5"/>
  </g>
  <rect x="-18.9" y="-33.8" width="37.8" height="67.6" fill="#fff" stroke-width="1.5"/>
  <g stroke-width="2.1">
    <rect x="-9.8" y="-27.2" width="20.4" height="8.8"/><rect x="-9.8" y="-11.9" width="20.4" height="8.8"/><rect x="-9.8" y="3.4" width="20.4" height="8.8"/><rect x="-9.8" y="18.7" width="20.4" height="8.8"/>
  </g>
  <g stroke-width="1.7" fill="#fff">
    <rect x="-2.6" y="-25.3" width="10.6" height="5"/><rect x="-2.6" y="-10" width="10.6" height="5"/><rect x="-2.6" y="5.3" width="10.6" height="5"/><rect x="-2.6" y="20.6" width="10.6" height="5"/>
  </g>
  <g class="a" font-size="7.4" font-weight="bold" stroke="none" style="fill:#1c1c1c">
    <text transform="translate(13.2,-24.8) rotate(90)">4</text>
    <text transform="translate(13.2,-9.5) rotate(90)">3</text>
    <text transform="translate(13.2,5.8) rotate(90)">2</text>
    <text transform="translate(13.2,21.1) rotate(90)">1</text>
    <text transform="translate(-12.4,26.4) rotate(-90)" font-size="8.4" font-weight="normal">ON</text>
  </g>
</g>



</svg>
</body>
</html>
